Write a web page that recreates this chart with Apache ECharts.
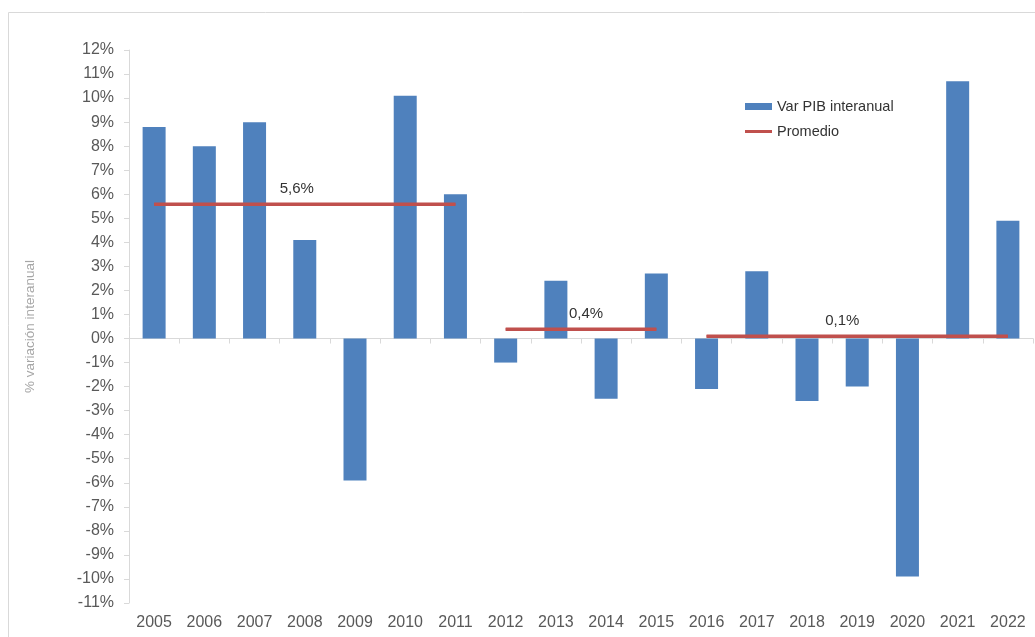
<!DOCTYPE html>
<html>
<head>
<meta charset="utf-8">
<script src="https://cdn.jsdelivr.net/npm/echarts@6/dist/echarts.min.js"></script>
<style>
  html, body { margin: 0; padding: 0; background: #fff; }
  #main { width: 1035px; height: 637px; }
</style>
</head>
<body>
<div id="main"></div>
<script>
// datos
var years = ['2005', '2006', '2007', '2008', '2009', '2010', '2011', '2012', '2013',
  '2014', '2015', '2016', '2017', '2018', '2019', '2020', '2021', '2022'];
var pibVar = [8.8, 8.0, 9.0, 4.1, -5.9, 10.1, 6.0, -1.0, 2.4, -2.5, 2.7, -2.1, 2.8, -2.6, -2.0, -9.9, 10.7, 4.9];

// promedios por periodo
var periodStart = ['2005', '2012', '2016'];
var periodEnd = ['2011', '2015', '2022'];
var periodAvg = [5.6, 0.4, 0.1];
var periodLabel = ['5,6%', '0,4%', '0,1%'];
var labelShift = [-8, 5, -15];

var yMin = -11, yMax = 12;
var gridTop = 50, gridBottom = 34, chartH = 637;

var chart = echarts.init(document.getElementById('main'));

var azul = '#4f81bd';
var rojo = '#c0504d';

var series = [{
  name: 'Var PIB interanual',
  type: 'bar',
  xAxisIndex: 0,
  barWidth: 23,
  itemStyle: { color: azul },
  data: pibVar
}];

for (var i = 0; i < periodAvg.length; i++) {
  var a = years.indexOf(periodStart[i]);
  var b = years.indexOf(periodEnd[i]);
  var d = years.map(function (y, k) { return (k >= a && k <= b) ? periodAvg[i] : null; });
  series.push({
    name: 'Promedio',
    type: 'line',
    xAxisIndex: 0,
    showSymbol: false,
    symbol: 'none',
    lineStyle: { color: rojo, width: 3 },
    itemStyle: { color: rojo },
    data: d,
    markLine: {
      silent: true,
      symbol: 'none',
      lineStyle: { color: rojo, width: 3, type: 'solid' },
      label: {
        show: true,
        position: 'middle',
        formatter: periodLabel[i],
        color: '#333',
        fontSize: 15,
        distance: 8,
        offset: [labelShift[i], 0]
      },
      data: [[{ coord: [periodStart[i], periodAvg[i]] }, { coord: [periodEnd[i], periodAvg[i]] }]]
    }
  });
}

// la linea de cero se dibuja con un segundo eje x desplazado hasta el 0
var plotH = chartH - gridTop - gridBottom;
var zeroOffset = -plotH * (0 - yMin) / (yMax - yMin);

var option = {
  animation: false,
  textStyle: { fontFamily: 'Liberation Sans, Arial, sans-serif' },
  grid: { left: 129, right: 2, top: gridTop, bottom: gridBottom },
  graphic: [{
    type: 'rect',
    shape: { x: 8.5, y: 12.5, width: 1040, height: 640 },
    style: { fill: 'none', stroke: '#d9d9d9', lineWidth: 1 },
    silent: true,
    z: -1
  }],
  legend: {
    orient: 'vertical',
    left: 740,
    top: 94,
    itemWidth: 27,
    itemHeight: 7,
    itemGap: 10,
    textStyle: { color: '#333', fontSize: 14.5 },
    data: [
      { name: 'Var PIB interanual', icon: 'rect' },
      { name: 'Promedio', icon: 'path://M0,0h27v3h-27z' }
    ]
  },
  xAxis: [{
    type: 'category',
    data: years,
    position: 'bottom',
    axisLine: { show: false },
    axisTick: { show: false },
    axisLabel: { color: '#595959', fontSize: 16, margin: 12, interval: 0 }
  }, {
    type: 'category',
    data: years,
    position: 'bottom',
    offset: zeroOffset,
    axisLine: { show: true, onZero: false, lineStyle: { color: '#d9d9d9' } },
    axisTick: { show: true, length: 5, lineStyle: { color: '#d9d9d9' } },
    axisLabel: { show: false }
  }],
  yAxis: {
    type: 'value',
    min: yMin,
    max: yMax,
    interval: 1,
    name: '% variación interanual',
    nameLocation: 'middle',
    nameGap: 92,
    nameTextStyle: { color: '#a6a6a6', fontSize: 13.5 },
    axisLine: { show: true, lineStyle: { color: '#d9d9d9' } },
    axisTick: { show: true, length: 5, lineStyle: { color: '#d9d9d9' } },
    splitLine: { show: false },
    axisLabel: {
      color: '#595959',
      fontSize: 16,
      margin: 15,
      formatter: function (v) { return v + '%'; }
    }
  },
  series: series
};

chart.setOption(option);
</script>
</body>
</html>
